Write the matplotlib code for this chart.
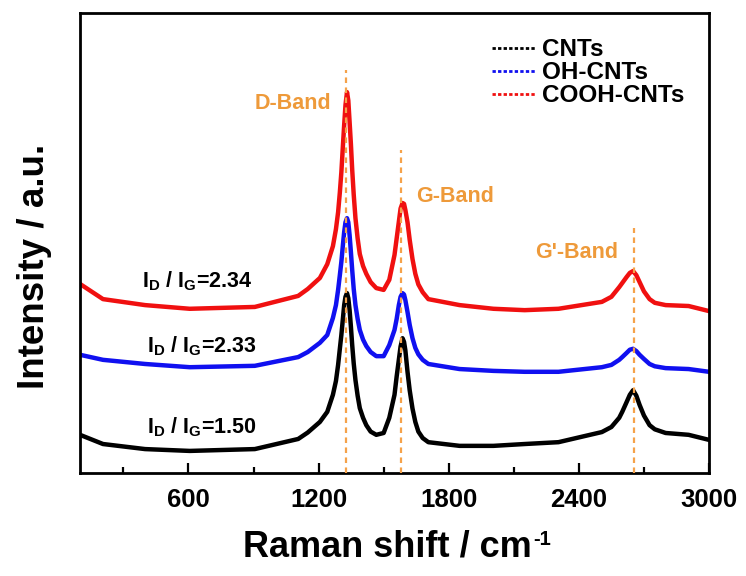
import matplotlib
matplotlib.use("Agg")
import matplotlib.pyplot as plt
from matplotlib.lines import Line2D
from matplotlib.ticker import MultipleLocator

plt.rcParams['font.family'] = ['Liberation Sans', 'DejaVu Sans']
plt.rcParams['font.weight'] = 'bold'
plt.rcParams['mathtext.fontset'] = 'custom'
plt.rcParams['mathtext.rm'] = 'Liberation Sans:bold'
plt.rcParams['mathtext.bf'] = 'Liberation Sans:bold'
plt.rcParams['mathtext.default'] = 'bf'

# ---- data ----
raman_shift = [100, 206, 400, 606, 906,
               1106, 1150, 1206, 1240, 1266,
               1280, 1290, 1298, 1305, 1312,
               1318, 1324, 1331, 1337, 1343,
               1349, 1355, 1362, 1370, 1380,
               1390, 1405, 1420, 1440, 1466,
               1500, 1526, 1550, 1560, 1570,
               1578, 1587, 1594, 1600, 1610,
               1620, 1633, 1646, 1660, 1680,
               1706, 1850, 2006, 2150, 2306,
               2506, 2550, 2586, 2600, 2620,
               2635, 2650, 2665, 2680, 2700,
               2726, 2750, 2800, 2906, 3000]

cooh_cnts = [41.1, 37.8, 36.5, 35.7, 36.1,
             38.5, 40.0, 42.4, 45.4, 49.3,
             53.0, 56.7, 61.0, 65.4, 71.0,
             75.7, 80.0, 82.8, 81.0, 76.3,
             71.5, 65.9, 60.5, 55.4, 51.0,
             47.6, 45.0, 43.3, 41.5, 40.2,
             39.8, 42.0, 47.4, 51.0, 54.6,
             57.5, 58.7, 58.5, 57.2, 54.5,
             50.7, 46.5, 43.3, 41.0, 39.3,
             37.8, 36.5, 35.7, 35.4, 35.7,
             37.2, 38.3, 40.4, 41.3, 42.6,
             43.5, 43.9, 43.0, 41.5, 39.5,
             37.8, 37.0, 36.5, 36.3, 35.2]

oh_cnts = [25.7, 24.6, 23.7, 23.0, 23.3,
           25.2, 26.3, 28.3, 30.0, 33.7,
           36.5, 39.8, 43.0, 45.9, 49.5,
           52.4, 54.5, 55.4, 54.5, 51.7,
           48.0, 44.1, 40.0, 36.5, 33.5,
           31.1, 29.0, 27.6, 26.3, 25.4,
           25.4, 27.8, 31.1, 33.5, 36.5,
           38.3, 39.1, 38.8, 37.6, 35.0,
           32.2, 29.3, 27.2, 25.8, 24.6,
           23.7, 22.6, 22.2, 22.0, 22.0,
           23.0, 23.5, 24.6, 25.2, 26.1,
           26.8, 27.0, 26.5, 25.7, 24.8,
           23.7, 23.2, 22.8, 22.6, 22.0]

cnts = [8.3, 6.3, 5.2, 4.8, 5.2,
        7.4, 8.8, 11.1, 13.3, 17.0,
        20.0, 23.5, 27.0, 30.0, 33.5,
        36.5, 38.3, 39.1, 38.0, 35.4,
        31.8, 27.8, 23.8, 20.2, 16.8,
        14.1, 12.0, 10.4, 9.0, 8.3,
        8.7, 12.0, 17.0, 21.0, 24.6,
        27.5, 29.3, 28.5, 26.7, 22.0,
        18.0, 14.0, 11.1, 9.0, 7.6,
        6.7, 5.9, 5.9, 6.3, 6.7,
        8.9, 10.0, 12.0, 13.3, 15.4,
        17.0, 18.0, 16.8, 14.8, 12.5,
        10.4, 9.5, 8.7, 8.3, 7.2]

series_names = ['CNTs', 'OH-CNTs', 'COOH-CNTs']
series_colors = ['black', '#1010F0', '#F01010']

band_names = ['D-Band', 'G-Band', "G'-Band"]
band_pos = [1328, 1582, 2652]
band_top = [87.6, 70.2, 53.3]
band_label_x = [1082, 1829, 2391]
band_label_y = [80.4, 60.0, 48.0]

ratio_labels = ['2.34', '2.33', '1.50']
ratio_x = [639, 662, 662]
ratio_y = [40.4, 26.3, 8.7]

xticks = [600, 1200, 1800, 2400, 3000]

orange = '#EE9A3A'

W, H = 746, 576
fig = plt.figure(figsize=(W / 100, H / 100), dpi=100)
ax = fig.add_axes([80/W, 103/H, 629/W, 460/H])

for yv, c in zip([cnts, oh_cnts, cooh_cnts], series_colors):
    ax.plot(raman_shift, yv, color=c, lw=3.2, solid_joinstyle='round')

for bx, bt in zip(band_pos, band_top):
    ax.plot([bx, bx], [0, bt], color='#F5A24A', lw=1.6, ls=(0, (2.5, 2.0)), zorder=3)

for name, lx, ly in zip(band_names, band_label_x, band_label_y):
    ax.text(lx, ly, name, color=orange, fontsize=15.5, fontweight='bold',
            ha='center', va='center')

for r, rx, ry in zip(ratio_labels, ratio_x, ratio_y):
    ax.text(rx, ry, r'I$_\mathregular{D}$ / I$_\mathregular{G}$=' + r,
            fontsize=15.5, fontweight='bold', ha='center', va='baseline')

ax.set_xlim(100, 3000)
ax.set_ylim(0, 100)
ax.set_xticks(xticks)
ax.xaxis.set_minor_locator(MultipleLocator(300))
ax.set_yticks([])
ax.tick_params(axis='x', which='major', direction='in', length=7, width=1.6,
               labelsize=18.5, pad=11)
ax.tick_params(axis='x', which='minor', direction='in', length=4, width=1.6)
for t in ax.get_xticklabels():
    t.set_fontweight('bold')
for s in ax.spines.values():
    s.set_linewidth(2.0)

ax.set_xlabel('Raman shift / cm', fontsize=26, fontweight='bold')
ax.xaxis.set_label_coords(0.488, -0.122)
ax.xaxis.label.set_va('top')
ax.set_ylabel('Intensity / a.u.', fontsize=26.5, fontweight='bold')
ax.yaxis.set_label_coords(-0.044, 0.45)

handles = [Line2D([], [], color=c, lw=2.0, ls=(0, (1.2, 0.8))) for c in series_colors]
leg = ax.legend(handles, series_names, loc='upper left', bbox_to_anchor=(0.655, 0.945),
                frameon=False, fontsize=17.5, handlelength=1.75, handletextpad=0.3,
                labelspacing=0.0, borderpad=0, borderaxespad=0)
for t in leg.get_texts():
    t.set_fontweight('bold')

# superscript "-1" placed right after the x label
fig.canvas.draw()
bb = ax.xaxis.label.get_window_extent()
fig.text((bb.x1 + 2) / W, (bb.y1 - 1) / H, '-1', fontsize=14.5, fontweight='bold',
         ha='left', va='top')

fig.savefig('out.png', dpi=100)
